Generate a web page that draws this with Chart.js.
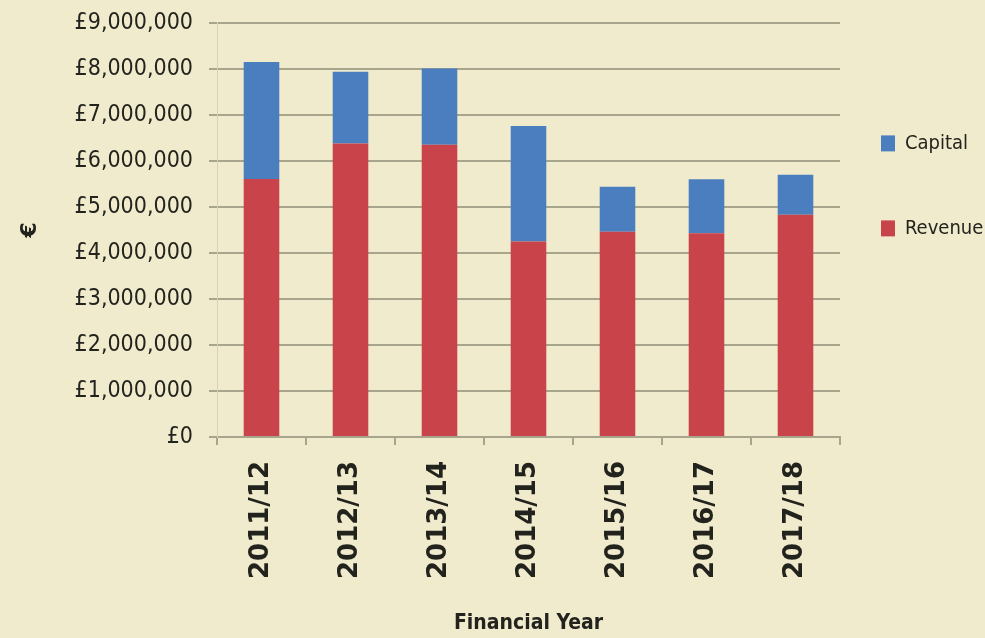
<!DOCTYPE html>
<html>
<head>
<meta charset="utf-8">
<script src="https://cdn.jsdelivr.net/npm/chart.js@4.4.1/dist/chart.umd.min.js"></script>
<style>
  html, body { margin: 0; padding: 0; background: #f1ebcd; }
  #wrap { width: 985px; height: 638px; }
</style>
</head>
<body>
<div id="wrap"><canvas id="myChart"></canvas></div>
<script>
// spend per financial year, in pounds
var years = ['2011/12', '2012/13', '2013/14', '2014/15', '2015/16', '2016/17', '2017/18'];
var revenue = [5610000, 6380000, 6350000, 4250000, 4460000, 4430000, 4830000];
var capital = [2540000, 1560000, 1660000, 2510000, 980000, 1170000, 870000];
var yMax = 9000000;
var yStep = 1000000;

var narrow = "'Liberation Sans Narrow', 'DejaVu Sans Condensed', sans-serif";
var gridColour = '#a7a58c';
var textColour = '#23231d';

var ctx = document.getElementById('myChart');

new Chart(ctx, {
    type: 'bar',
    data: {
        labels: years,
        datasets: [{
            label: 'Revenue',
            data: revenue,
            backgroundColor: '#c8444a',
            borderWidth: 0
        }, {
            label: 'Capital',
            data: capital,
            backgroundColor: '#4a7ebf',
            borderWidth: 0
        }]
    },
    options: {
        responsive: true,
        maintainAspectRatio: false,
        animation: false,
        barPercentage: 0.4,
        categoryPercentage: 1,
        plugins: {
            tooltip: { enabled: false },
            legend: {
                position: 'right',
                align: 'start',
                reverse: true,
                maxWidth: 145,
                // empty title just pushes the items down the side
                title: { display: true, text: '', padding: { top: 78, bottom: 0 } },
                labels: {
                    boxWidth: 14,
                    boxHeight: 16,
                    padding: 41,
                    color: textColour,
                    font: { family: narrow, size: 20, lineHeight: 2.2 },
                    // array text so the row height follows the font lineHeight
                    generateLabels: function (chart) {
                        var items = Chart.defaults.plugins.legend.labels.generateLabels(chart);
                        items.forEach(function (item) { item.text = [item.text]; });
                        return items;
                    }
                }
            }
        },
        scales: {
            x: {
                stacked: true,
                grid: { drawOnChartArea: false, color: gridColour, lineWidth: 2, tickLength: 8 },
                border: { color: gridColour, width: 2 },
                ticks: {
                    minRotation: 90,
                    maxRotation: 90,
                    padding: 16,
                    color: textColour,
                    font: { family: 'DejaVu Sans', weight: 'bold', size: 26 }
                },
                title: {
                    display: true,
                    text: 'Financial Year',
                    color: textColour,
                    font: { family: narrow, weight: 'bold', size: 21 },
                    padding: { top: 0, bottom: 2 }
                },
                afterFit: function (scale) { scale.height = 201; }
            },
            y: {
                stacked: true,
                min: 0,
                max: yMax,
                grid: { color: gridColour, lineWidth: 2, tickLength: 8 },
                border: { color: '#d8d3b3', width: 1 },
                ticks: {
                    stepSize: yStep,
                    padding: 16,
                    color: textColour,
                    // small lineHeight keeps the top label from pushing the plot down
                    font: { family: narrow, size: 23, lineHeight: 0.6 },
                    callback: function (v) { return '£' + v.toLocaleString('en-GB'); }
                },
                title: {
                    display: true,
                    text: '€',
                    color: textColour,
                    font: { family: 'DejaVu Sans', weight: 'bold', size: 22 },
                    padding: { top: 17 }
                },
                afterFit: function (scale) { scale.width = 217; }
            }
        }
    }
});
</script>
</body>
</html>
